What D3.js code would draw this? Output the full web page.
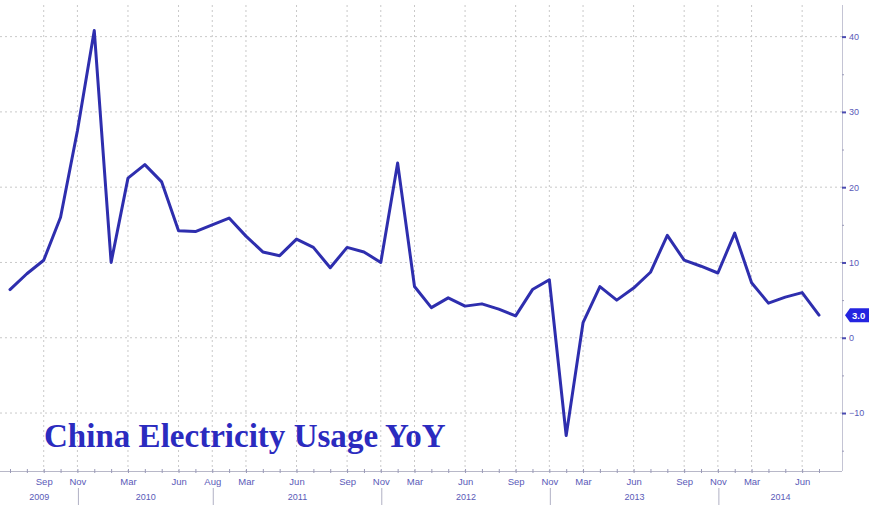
<!DOCTYPE html>
<html>
<head>
<meta charset="utf-8">
<script src="https://cdn.jsdelivr.net/npm/d3@7"></script>
<style>
  html, body { margin: 0; padding: 0; background: #ffffff; }
  svg { display: block; }
</style>
</head>
<body>
<svg id="chart" width="869" height="505"></svg>
<script>
// Observation periods (Jan and Feb are reported together; some months are absent in the source series)
const periods = [
  "Jul 2009","Aug 2009","Sep 2009","Oct 2009","Nov 2009","Dec 2009",
  "Feb 2010","Mar 2010","Apr 2010","May 2010","Jun 2010","Jul 2010","Aug 2010",
  "Feb 2011","Mar 2011","Apr 2011","May 2011","Jun 2011","Jul 2011","Aug 2011","Sep 2011","Oct 2011","Nov 2011",
  "Feb 2012","Mar 2012","Apr 2012","May 2012","Jun 2012","Jul 2012","Aug 2012","Sep 2012","Oct 2012","Nov 2012",
  "Feb 2013","Mar 2013","Apr 2013","May 2013","Jun 2013","Jul 2013","Aug 2013","Sep 2013","Oct 2013","Nov 2013",
  "Feb 2014","Mar 2014","Apr 2014","May 2014","Jun 2014","Jul 2014"
];

// Electricity usage, % change year on year
const usageYoY = [
  6.4, 8.5, 10.3, 16.0, 27.5, 40.8,
  10.0, 21.2, 23.0, 20.7, 14.2, 14.1, 15.0,
  15.9, 13.5, 11.4, 10.9, 13.1, 12.0, 9.3, 12.0, 11.4, 10.0,
  23.2, 6.8, 4.0, 5.3, 4.2, 4.5, 3.8, 2.9, 6.4, 7.7,
  -13.0, 2.0, 6.8, 5.0, 6.6, 8.7, 13.6, 10.3, 9.5, 8.6,
  13.9, 7.3, 4.6, 5.4, 6.0, 3.0
];

// Labelled months on the time axis
const monthTicks = [
  "Sep 2009","Nov 2009","Mar 2010","Jun 2010","Aug 2010","Mar 2011","Jun 2011",
  "Sep 2011","Nov 2011","Mar 2012","Jun 2012","Sep 2012","Nov 2012","Mar 2013",
  "Jun 2013","Sep 2013","Nov 2013","Mar 2014","Jun 2014"
];

// Year dividers and year captions
const yearBreaks = ["Nov 2009","Aug 2010","Nov 2011","Nov 2012","Nov 2013"];
const yearLabels = ["2009","2010","2011","2012","2013","2014"];

// Value axis
const yMajorTicks = [-10, 0, 10, 20, 30, 40];
const yMinorTicks = [-15, -5, 5, 15, 25, 35];
const yDomain = [-17.7, 44.2];

const titleText = "China Electricity Usage YoY";

// ---- layout ----
const W = 869, H = 505;
const plot = { left: 0, right: 842, top: 5, bottom: 471 };
const lineColor = "#2e2eae";
const axisText = "#5a5ab8";
const gridColor = "#c9c9c9";

const svg = d3.select("#chart");

const x = d3.scalePoint()
  .domain(periods)
  .range([10, 819]);

const y = d3.scaleLinear()
  .domain(yDomain)
  .range([plot.bottom, plot.top]);

// plot background
svg.append("rect")
  .attr("x", 0).attr("y", 0)
  .attr("width", W).attr("height", H)
  .attr("fill", "#ffffff");

// horizontal grid
svg.append("g")
  .selectAll("line")
  .data(yMajorTicks)
  .join("line")
  .attr("x1", plot.left).attr("x2", plot.right)
  .attr("y1", d => y(d)).attr("y2", d => y(d))
  .attr("stroke", gridColor)
  .attr("stroke-width", 1)
  .attr("stroke-dasharray", "2,3");

// vertical grid at labelled months
svg.append("g")
  .selectAll("line")
  .data(monthTicks)
  .join("line")
  .attr("x1", d => x(d)).attr("x2", d => x(d))
  .attr("y1", plot.top).attr("y2", plot.bottom)
  .attr("stroke", gridColor)
  .attr("stroke-width", 1)
  .attr("stroke-dasharray", "2,3");

// bottom time axis: minor ticks on every observation
const xMinor = d3.axisBottom(x)
  .tickValues(periods)
  .tickSize(3)
  .tickFormat("");
const gxMinor = svg.append("g")
  .attr("transform", `translate(0,${plot.bottom})`)
  .call(xMinor);
gxMinor.select(".domain")
  .attr("d", `M${plot.left},0.5H${plot.right}`)
  .attr("stroke", "#b8b8c8");
gxMinor.selectAll(".tick line")
  .attr("stroke", "#9a9ab8")
  .attr("y1", -2).attr("y2", 2);

// month labels
const xMonths = d3.axisBottom(x)
  .tickValues(monthTicks)
  .tickSize(0)
  .tickPadding(7)
  .tickFormat(d => d.split(" ")[0]);
const gxMonths = svg.append("g")
  .attr("transform", `translate(0,${plot.bottom})`)
  .call(xMonths);
gxMonths.select(".domain").remove();
gxMonths.selectAll("text")
  .attr("fill", axisText)
  .attr("font-family", "Liberation Sans, Arial, sans-serif")
  .attr("font-size", 9.5);

// year dividers
svg.append("g")
  .selectAll("line")
  .data(yearBreaks)
  .join("line")
  .attr("x1", d => x(d) + 1).attr("x2", d => x(d) + 1)
  .attr("y1", plot.bottom + 17).attr("y2", H)
  .attr("stroke", "#b0b0c4")
  .attr("stroke-width", 1);

// year captions, centred between dividers
const edges = [plot.left].concat(yearBreaks.map(d => x(d) + 1), [plot.right]);
svg.append("g")
  .selectAll("text")
  .data(yearLabels)
  .join("text")
  .attr("x", (d, i) => (edges[i] + edges[i + 1]) / 2)
  .attr("y", plot.bottom + 29)
  .attr("text-anchor", "middle")
  .attr("fill", axisText)
  .attr("font-family", "Liberation Sans, Arial, sans-serif")
  .attr("font-size", 9)
  .text(d => d);

// right value axis
const yAxis = d3.axisRight(y)
  .tickValues(yMajorTicks)
  .tickSize(4)
  .tickPadding(3)
  .tickFormat(d3.format("d"));
const gy = svg.append("g")
  .attr("transform", `translate(${plot.right},0)`)
  .call(yAxis);
gy.select(".domain")
  .attr("d", `M0.5,${plot.top}V${plot.bottom}`)
  .attr("stroke", "#c4c4d4");
gy.selectAll(".tick line")
  .attr("stroke", "#4a4ab0")
  .attr("stroke-width", 2);
gy.selectAll("text")
  .attr("fill", axisText)
  .attr("font-family", "Liberation Sans, Arial, sans-serif")
  .attr("font-size", 9);

const yMinor = d3.axisRight(y)
  .tickValues(yMinorTicks)
  .tickSize(2)
  .tickFormat("");
const gyMinor = svg.append("g")
  .attr("transform", `translate(${plot.right},0)`)
  .call(yMinor);
gyMinor.select(".domain").remove();
gyMinor.selectAll(".tick line").attr("stroke", "#9a9ab8");

// the series
const line = d3.line()
  .x((d, i) => x(periods[i]))
  .y(d => y(d));

svg.append("path")
  .datum(usageYoY)
  .attr("d", line)
  .attr("fill", "none")
  .attr("stroke", lineColor)
  .attr("stroke-width", 3)
  .attr("stroke-linejoin", "round")
  .attr("stroke-linecap", "round");

// last value tag on the value axis
const lastVal = usageYoY[usageYoY.length - 1];
const ty = y(lastVal);
const tx = plot.right + 3;
svg.append("path")
  .attr("d", `M${tx},${ty} L${tx + 5},${ty - 7} H${W} V${ty + 7} H${tx + 5} Z`)
  .attr("fill", "#2424e0");
svg.append("text")
  .attr("x", tx + 7)
  .attr("y", ty + 3.5)
  .attr("fill", "#ffffff")
  .attr("font-family", "Liberation Sans, Arial, sans-serif")
  .attr("font-weight", "bold")
  .attr("font-size", 9.5)
  .text(d3.format(".1f")(lastVal));

// title
const title = svg.append("text")
  .attr("x", 44)
  .attr("y", 447)
  .attr("fill", "#2b2bbf")
  .attr("font-family", "Liberation Serif, 'DejaVu Serif', serif")
  .attr("font-weight", "bold")
  .attr("font-size", 28)
  .text(titleText);
const tw = title.node().getComputedTextLength();
title.attr("font-size", 28 * 402 / tw);
</script>
</body>
</html>
